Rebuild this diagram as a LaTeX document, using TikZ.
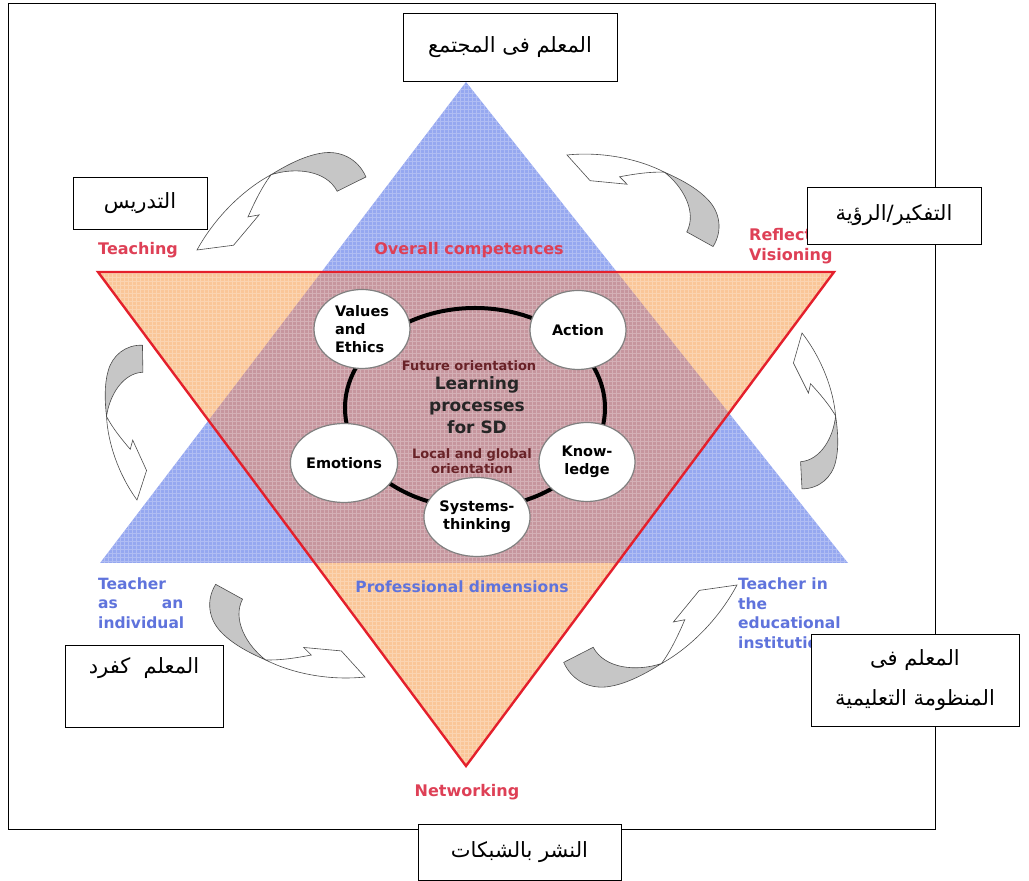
\documentclass[tikz,border=0pt]{standalone}
\usepackage{fontspec}
\setmainfont{DejaVu Sans}
\newfontfamily\arabicfont[Script=Arabic]{DejaVu Sans}
\TeXXeTstate=1
\usepackage{xcolor}
\usetikzlibrary{shapes.geometric,positioning}

\definecolor{triblue}{RGB}{150,168,240}
\definecolor{triorange}{RGB}{250,198,152}
\definecolor{trimix}{RGB}{198,150,158}
\definecolor{linered}{RGB}{228,32,44}
\definecolor{textred}{RGB}{222,64,86}
\definecolor{textblue}{RGB}{95,115,220}
\definecolor{textdark}{RGB}{105,35,40}

\begin{document}
\begin{tikzpicture}[x=1pt,y=1pt,
    arabox/.style={draw,fill=white,line width=0.8pt,inner sep=0pt,align=center,font=\arabicfont\fontsize{21}{40}\selectfont},
    sdbubble/.style={ellipse,draw=black!50,fill=white,line width=1.2pt,inner sep=0pt,minimum width=96,minimum height=79,font=\bfseries\fontsize{14.5}{18}\selectfont},
    redlabel/.style={text=textred,inner sep=0pt,font=\bfseries\fontsize{16}{20}\selectfont},
    bluelabel/.style={text=textblue,inner sep=0pt,align=left,font=\bfseries\fontsize{15.5}{19.5}\selectfont},
    midtext/.style={text=textdark,inner sep=0pt,align=center,font=\bfseries\fontsize{13}{15}\selectfont},
    pics/twistarrow/.style={code={
      \filldraw[fill=gray!45,draw=black!70,line width=0.6pt] (-0.09,0) .. controls (-0.09,-0.12) and (-0.01,-0.21) .. (0.1,-0.235)
        .. controls (0.2,-0.26) and (0.32,-0.25) .. (0.42,-0.235) .. controls (0.27,-0.22) and (0.11,-0.13) .. (0.1,0.01) -- cycle;
      \filldraw[fill=white,draw=black!70,line width=0.6pt] (0.42,-0.235) .. controls (0.6,-0.22) and (0.82,-0.14) .. (1,0)
        -- (0.79,0.06) -- (0.58,-0.045) -- (0.645,-0.06) .. controls (0.58,-0.12) and (0.5,-0.19) .. (0.42,-0.235) -- cycle;
    }}]
  \useasboundingbox (0,0) rectangle (1029,881);

  % the two triangles
  \coordinate (bL) at (100,318);
  \coordinate (bR) at (848,318);
  \coordinate (bT) at (466,799);
  \coordinate (rL) at (98,609);
  \coordinate (rR) at (834,609);
  \coordinate (rB) at (466,115);
  \fill[triblue] (bL) -- (bR) -- (bT) -- cycle;
  \fill[triorange] (rL) -- (rB) -- (rR) -- cycle;
  \begin{scope}
    \clip (bL) -- (bR) -- (bT) -- cycle;
    \fill[trimix] (rL) -- (rB) -- (rR) -- cycle;
  \end{scope}
  \begin{scope}
    \clip (bL) -- (bR) -- (bT) -- cycle (rL) -- (rB) -- (rR) -- cycle;
    \draw[white,opacity=0.25,line width=0.4pt,step=4] (96,112) grid (850,800);
  \end{scope}
  \draw[linered,line width=2.4pt,line join=miter] (rL) -- (rB) -- (rR) -- cycle;

  % learning processes
  \node[ellipse,draw,line width=4pt,minimum width=260,minimum height=200] (ring) at (475,473) {};
  \node[sdbubble,align=left] (values) at (362,552) {Values\\and\\Ethics};
  \node[sdbubble] (action) at (578,551) {Action};
  \node[sdbubble] (emotions) at (344,418) {Emotions};
  \node[sdbubble,align=center] (knowledge) at (587,419) {Know-\\ledge};
  \node[sdbubble,align=center] (systems) at (477,364) {Systems-\\thinking};
  \node[midtext] (future) at (469,515) {Future orientation};
  \node[midtext,text=black!85,font=\bfseries\fontsize{17}{22}\selectfont] (learning) at (477,476) {Learning\\processes\\for SD};
  \node[midtext] (localglobal) at (472,420) {Local and global\\orientation};

  % labels of the corners
  \node[redlabel,anchor=west] (teaching) at (98,631) {Teaching};
  \node[redlabel] (overall) at (469,631) {Overall competences};
  \node[redlabel,anchor=west,align=left] (reflecting) at (749,635) {Reflection/\\Visioning};
  \node[redlabel] (networking) at (467,89) {Networking};
  \node[bluelabel] (profdim) at (462,294) {Professional dimensions};
  \node[bluelabel,anchor=west] (individual) at (98,278) {Teacher\\as\hspace{44pt}an\\individual};
  \node[bluelabel,anchor=west] (institution) at (738,268) {Teacher in\\the\\educational\\institution};

  % arrows of the cycle
  \foreach \ua/\ub/\uc/\ud/\tx/\ty [count=\k] in {-5/-142/142/-5/142/523, -134/84/-84/-134/701/642,
      -155/-67/67/-155/352/698, 0/143/-143/0/802/405, 159/71/-71/159/578/225, 137/-85/85/137/228/289}
    \pic[cm={\ua,\ub,\uc,\ud,(\tx,\ty)}] (cyc\k) {twistarrow};

  % frame and arabic boxes
  \draw[line width=0.8pt] (8,52) rectangle (935,878);
  \node[arabox,minimum width=214,minimum height=68] (society) at (510,834) {\beginR المعلم فى المجتمع\endR};
  \node[arabox,minimum width=134,minimum height=52] (teachbox) at (140,678) {\beginR التدريس\endR};
  \node[arabox,minimum width=174,minimum height=57] (reflectbox) at (894,665.5) {\beginR التفكير/الرؤية\endR};
  \node[arabox,minimum width=208,minimum height=92] (institbox) at (915,201) {\beginR المعلم فى\endR\\\beginR المنظومة التعليمية\endR};
  \node[arabox,minimum width=158,minimum height=82] (indivbox) at (144,195) {\beginR المعلم\ \ كفرد\endR\\[-12pt]\strut};
  \node[arabox,minimum width=203,minimum height=56] (netbox) at (519.5,29) {\beginR النشر بالشبكات\endR};
\end{tikzpicture}
\end{document}
